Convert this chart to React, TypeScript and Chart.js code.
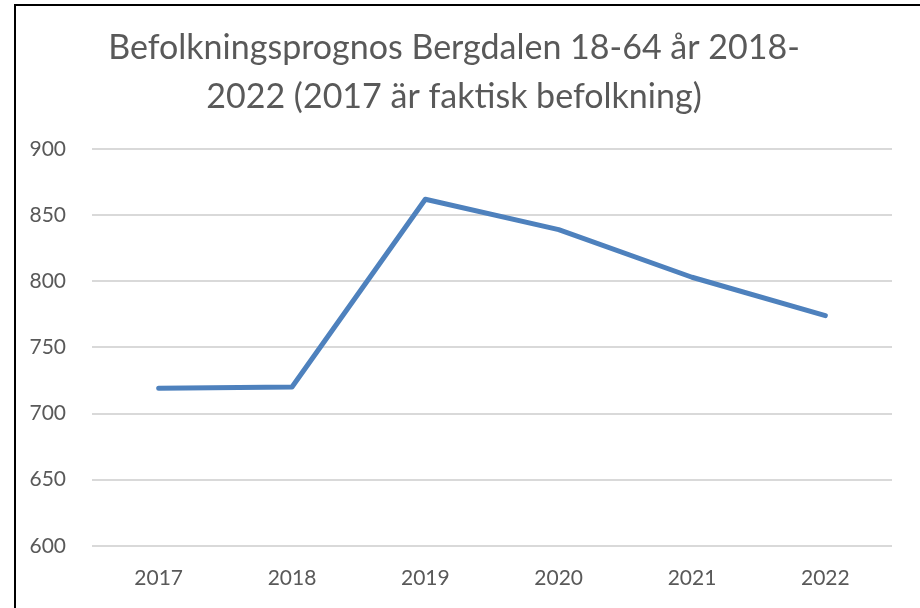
import React, { useEffect, useRef } from "react";
import { Chart, registerables } from "chart.js";

Chart.register(...registerables);

const years = ["2017", "2018", "2019", "2020", "2021", "2022"];
const population = [719, 720, 862, 839, 803, 774];
const titleLines = ["Befolkningsprognos Bergdalen 18-64 år 2018-", "2022 (2017 är faktisk befolkning)"];
const yMin = 600;
const yMax = 900;
const yStep = 50;

export default function App() {
  const ref = useRef<HTMLCanvasElement | null>(null);
  useEffect(() => {
    if (!ref.current) return;
    const font = "Lato, 'Open Sans', sans-serif";
    const chart = new Chart(ref.current, {
      type: "line",
      data: {
        labels: years,
        datasets: [
          {
            data: population,
            borderColor: "#4e81bd",
            borderWidth: 5,
            pointRadius: 0,
            borderCapStyle: "round",
            borderJoinStyle: "round",
            tension: 0,
            fill: false,
          },
        ],
      },
      options: {
        animation: false,
        responsive: false,
        maintainAspectRatio: false,
        layout: { padding: { left: 0, right: 28, top: 0, bottom: 0 } },
        plugins: {
          legend: { display: false },
          tooltip: { enabled: false },
          title: {
            display: true,
            text: titleLines,
            color: "#595959",
            font: { family: font, size: 34, weight: "normal", lineHeight: 1.44 },
            padding: { top: 18, bottom: 27 },
          },
        },
        scales: {
          x: {
            offset: true,
            grid: { display: false, drawTicks: false },
            border: { display: false },
            ticks: { color: "#595959", font: { family: font, size: 21 }, padding: 20, maxRotation: 0 },
          },
          y: {
            min: yMin,
            max: yMax,
            grid: { color: "#d9d9d9", lineWidth: 2, drawTicks: false },
            border: { display: false },
            ticks: { stepSize: yStep, color: "#595959", font: { family: font, size: 21 }, padding: 26 },
            afterFit: (s: any) => {
              s.width = 76;
            },
          },
        },
      },
    });
    return () => chart.destroy();
  }, []);
  return (
    <div
      style={{
        position: "fixed",
        left: 14,
        top: 4,
        width: 906,
        height: 620,
        borderLeft: "2px solid #000",
        borderTop: "2px solid #000",
        background: "#fff",
      }}
    >
      <canvas ref={ref} width={904} height={605} style={{ display: "block" }} />
    </div>
  );
}
